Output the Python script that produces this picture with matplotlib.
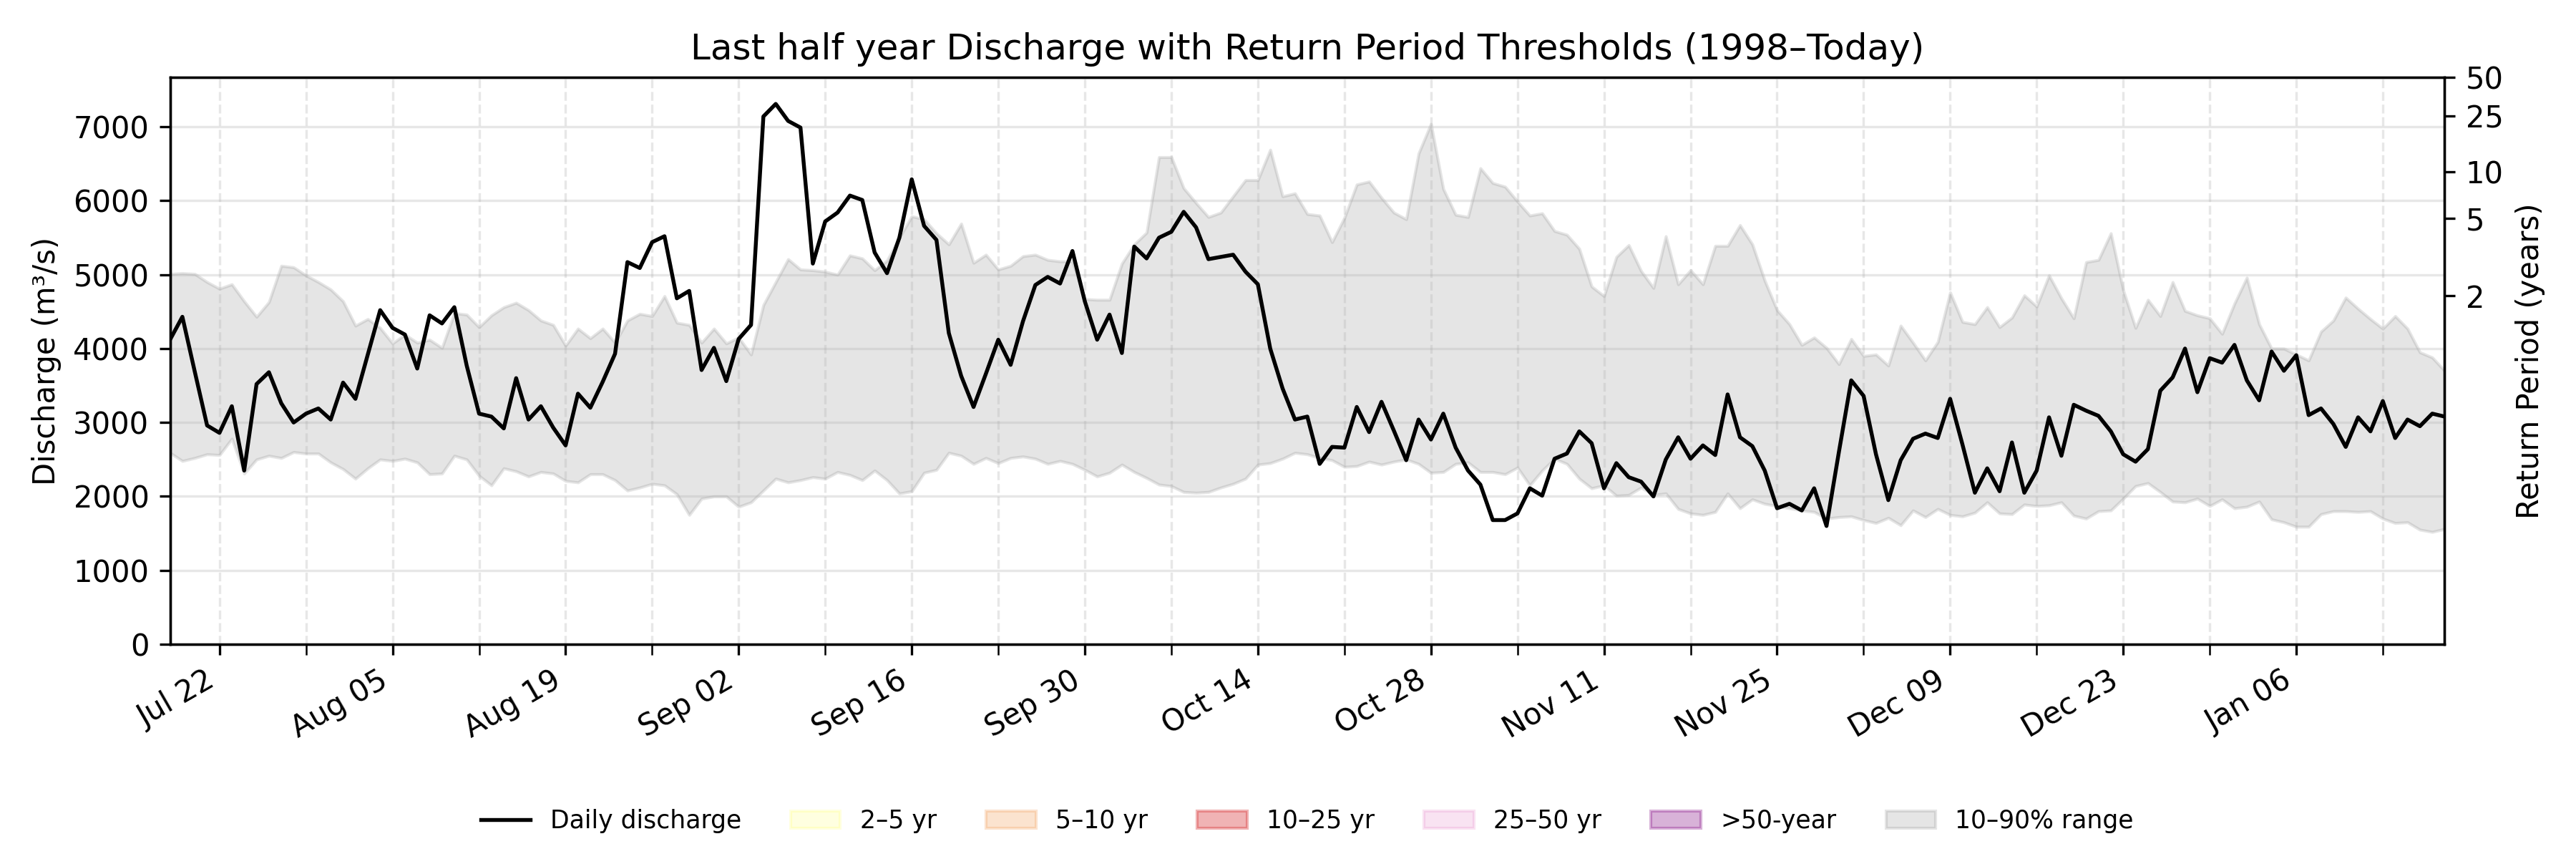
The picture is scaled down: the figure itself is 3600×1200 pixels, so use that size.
import pandas as pd
import matplotlib.pyplot as plt
import matplotlib.dates as mdates
from matplotlib.patches import Patch

# data: daily values, 18 Jul 2025 - 18 Jan 2026
start_date = "2025-07-18"
end_date = "2026-01-18"

discharge = [
    # Jul 18-31
    4120, 4430, 3690, 2960, 2860, 3220, 2350, 3520, 3680, 3260, 3000, 3120, 3190, 3040,
    # Aug
    3540, 3320, 3920, 4520, 4280, 4190, 3730, 4450, 4340, 4560, 3770, 3120, 3080, 2920, 3600, 3040,
    3220, 2930, 2690, 3390, 3200, 3550, 3930, 5170, 5090, 5440, 5520, 4680, 4780, 3710, 4010,
    # Sep
    3560, 4130, 4320, 7140, 7310, 7080, 6990, 5150, 5720, 5840, 6070, 6010, 5300, 5020, 5500,
    6290, 5660, 5470, 4210, 3630, 3210, 3660, 4120, 3780, 4370, 4860, 4970, 4880, 5320, 4640,
    # Oct
    4120, 4460, 3940, 5380, 5220, 5500, 5580, 5850, 5640, 5210, 5240, 5270, 5040, 4870, 4000, 3460,
    3040, 3080, 2440, 2670, 2660, 3210, 2870, 3280, 2890, 2490, 3040, 2770, 3120, 2660, 2350,
    # Nov
    2160, 1680, 1680, 1770, 2110, 2010, 2510, 2580, 2880, 2720, 2110, 2450, 2260, 2200, 2000,
    2500, 2800, 2510, 2690, 2560, 3380, 2800, 2680, 2350, 1840, 1900, 1810, 2110, 1600, 2600,
    # Dec
    3570, 3360, 2570, 1950, 2490, 2780, 2850, 2790, 3320, 2700, 2050, 2380, 2070, 2730, 2050, 2350,
    3070, 2550, 3240, 3160, 3090, 2880, 2570, 2470, 2640, 3430, 3610, 4000, 3410, 3870, 3810,
    # Jan 1-18
    4050, 3570, 3300, 3960, 3700, 3910, 3100, 3190, 2980, 2670, 3070, 2880, 3290, 2790, 3040,
    2950, 3120, 3080,
]

p90 = [
    5010, 5020, 5010, 4900, 4810, 4870, 4640, 4430, 4630, 5120, 5100, 4990, 4900, 4800,
    4640, 4310, 4400, 4280, 4070, 4190, 4080, 4120, 4010, 4480, 4460, 4290, 4450, 4560, 4620, 4520,
    4380, 4320, 4040, 4270, 4140, 4270, 4080, 4380, 4470, 4440, 4710, 4350, 4320, 4080, 4270,
    4070, 4150, 3920, 4590, 4900, 5210, 5070, 5060, 5040, 5000, 5260, 5220, 5060, 5190, 5500,
    5790, 5750, 5560, 5410, 5690, 5160, 5270, 5070, 5120, 5250, 5270, 5200, 5180, 5180, 4670,
    4660, 4660, 5150, 5410, 5570, 6590, 6590, 6170, 5970, 5780, 5840, 6060, 6280, 6280, 6690, 6060,
    6100, 5820, 5800, 5440, 5770, 6220, 6260, 6040, 5840, 5750, 6640, 7040, 6160, 5810, 5780,
    6440, 6240, 6190, 5990, 5800, 5830, 5590, 5540, 5350, 4840, 4710, 5240, 5400, 5050, 4820,
    5520, 4870, 5060, 4870, 5390, 5390, 5670, 5410, 4920, 4520, 4330, 4050, 4150, 4010, 3790,
    4130, 3900, 3920, 3770, 4310, 4080, 3840, 4090, 4760, 4360, 4330, 4560, 4290, 4420, 4720, 4570,
    4990, 4680, 4410, 5170, 5200, 5560, 4790, 4280, 4660, 4440, 4900, 4510, 4450, 4410, 4200,
    4610, 4960, 4330, 4000, 4000, 3920, 3840, 4230, 4380, 4690, 4540, 4400, 4270, 4440, 4270,
    3950, 3880, 3700,
]

p10 = [
    2590, 2480, 2520, 2570, 2560, 2780, 2310, 2500, 2550, 2520, 2600, 2580, 2580, 2460,
    2370, 2240, 2380, 2500, 2480, 2510, 2460, 2300, 2310, 2550, 2500, 2280, 2150, 2380, 2340, 2270,
    2330, 2310, 2210, 2190, 2300, 2300, 2220, 2080, 2120, 2170, 2150, 2030, 1750, 1970, 2000,
    2000, 1860, 1920, 2080, 2240, 2190, 2220, 2260, 2240, 2330, 2290, 2220, 2350, 2220, 2040,
    2070, 2320, 2360, 2590, 2550, 2440, 2520, 2450, 2520, 2540, 2510, 2440, 2480, 2440, 2360,
    2270, 2320, 2430, 2330, 2250, 2160, 2140, 2060, 2050, 2060, 2120, 2170, 2240, 2430, 2450, 2510,
    2590, 2570, 2520, 2490, 2400, 2410, 2470, 2430, 2470, 2500, 2440, 2320, 2330, 2440, 2460,
    2330, 2330, 2300, 2390, 2150, 2350, 2510, 2440, 2240, 2110, 2150, 2010, 2020, 2120, 2020,
    2040, 1830, 1770, 1750, 1790, 2040, 1840, 1960, 1900, 1870, 1840, 1810, 1790, 1700, 1720,
    1730, 1680, 1640, 1710, 1610, 1810, 1720, 1830, 1750, 1730, 1780, 1920, 1770, 1760, 1890, 1870,
    1880, 1920, 1740, 1700, 1800, 1810, 1970, 2140, 2180, 2060, 1930, 1920, 1970, 1870, 1960,
    1840, 1860, 1930, 1690, 1650, 1590, 1590, 1760, 1800, 1800, 1790, 1800, 1700, 1640, 1650,
    1550, 1520, 1560,
]

# return period thresholds (discharge for each return period)
rp_years = [2, 5, 10, 25, 50]
rp_discharge = [4716, 5760, 6393, 7146, 7670]

band_labels = ["2–5 yr", "5–10 yr", "10–25 yr", "25–50 yr", ">50-year"]
band_colors = ["yellow", "sandybrown", "tab:red", "tab:pink", "purple"]
band_alpha = [0.12, 0.3, 0.35, 0.2, 0.3]

dates = pd.date_range(start_date, end_date, freq="D")

fig, ax = plt.subplots(figsize=(12, 4), dpi=300)
fig.subplots_adjust(left=0.066, right=0.949, top=0.91, bottom=0.25)

rng = ax.fill_between(dates, p10, p90, color="gray", alpha=0.2, label="10–90% range")
line, = ax.plot(dates, discharge, color="black", lw=1.3, label="Daily discharge")

ax.set_xlim(dates[0], dates[-1])
ax.set_ylim(0, rp_discharge[-1])
ax.set_ylabel("Discharge (m³/s)")
ax.set_title("Last half year Discharge with Return Period Thresholds (1998–Today)")

# weekly ticks, label every second week
major = pd.date_range("2025-07-22", end_date, freq="14D")
minor = pd.date_range("2025-07-29", end_date, freq="14D")
ax.set_xticks(major)
ax.set_xticks(minor, minor=True)
ax.xaxis.set_major_formatter(mdates.DateFormatter("%b %d"))
ax.tick_params(axis="x", which="minor", length=3.5)
plt.setp(ax.get_xticklabels(), rotation=30, ha="right")

ax.grid(axis="y", alpha=0.3)
ax.grid(axis="x", which="both", linestyle="--", alpha=0.3)

# right axis: return periods
ax2 = ax.twinx()
ax2.set_ylim(ax.get_ylim())
ax2.set_yticks(rp_discharge)
ax2.set_yticklabels([str(y) for y in rp_years])
ax2.set_ylabel("Return Period (years)")

handles = [line]
for lab, c, a in zip(band_labels, band_colors, band_alpha):
    handles.append(Patch(facecolor=c, edgecolor=c, alpha=a, label=lab))
handles.append(rng)
ax.legend(handles=handles, loc="center", bbox_to_anchor=(0.5, -0.312),
          ncol=7, frameon=False, fontsize=8.3)

fig.savefig("out.png")
